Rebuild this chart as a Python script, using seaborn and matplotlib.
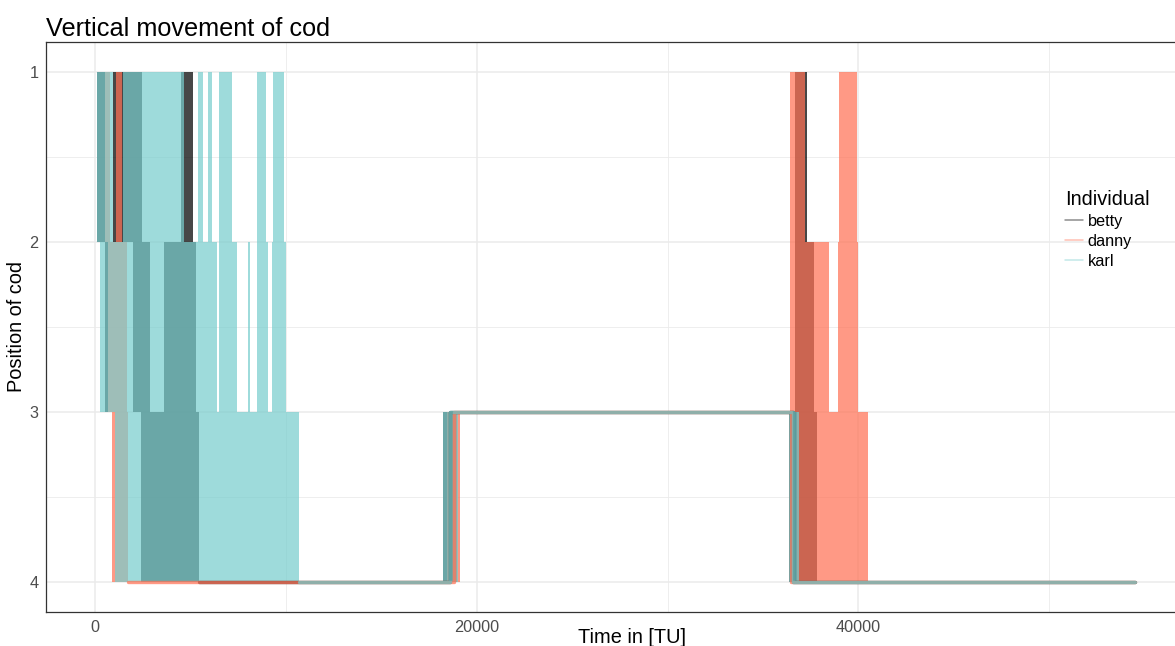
import matplotlib

matplotlib.use("Agg")

import matplotlib.pyplot as plt
import pandas as pd
import seaborn as sns
from matplotlib.lines import Line2D
from matplotlib.ticker import MultipleLocator

INDIVIDUALS = ["betty", "danny", "karl"]
COLORS = {"betty": "#000000", "danny": "#FF7256", "karl": "#79CDCD"}
ALPHA = 0.72

betty_bands = [
    (105, 524, 1, 2), (943, 2463, 1, 2), (4506, 5135, 1, 2), (36680, 37309, 1, 2),
    (524, 681, 2, 3), (1991, 2882, 2, 3), (3616, 5292, 2, 3), (36680, 37676, 2, 3),
    (2410, 5450, 3, 4), (18235, 18950, 3, 4), (36366, 37833, 3, 4),
]
danny_bands = [
    (524, 786, 1, 2), (1100, 1415, 1, 2), (36418, 37204, 1, 2), (38986, 39929, 1, 2),
    (681, 1677, 2, 3), (36418, 38462, 2, 3), (38933, 39981, 2, 3),
    (891, 1729, 3, 4), (18450, 19126, 3, 4), (36800, 40505, 3, 4),
]
karl_bands = [
    (105, 943, 1, 2), (1467, 4664, 1, 2), (5397, 5659, 1, 2), (5921, 6131, 1, 2),
    (6498, 7179, 1, 2), (8489, 8960, 1, 2), (9327, 9904, 1, 2),
    (262, 6393, 2, 3), (6498, 7441, 2, 3), (8017, 8122, 2, 3), (8489, 9065, 2, 3),
    (9275, 10008, 2, 3),
    (1048, 10690, 3, 4), (18235, 19021, 3, 4), (36366, 36890, 3, 4),
]

# calmer stretches of each track
betty_t = [5450, 18600, 18600, 36600, 36600, 54496]
betty_y = [4, 4, 3, 3, 4, 4]
danny_t = [1729, 18800, 18800, 36450, 36450, 54496]
danny_y = [4, 4, 3, 3, 4, 4]
karl_t = [10690, 18600, 18600, 36600, 36600, 54496]
karl_y = [4, 4, 3, 3, 4, 4]

BANDS = {"betty": betty_bands, "danny": danny_bands, "karl": karl_bands}
TRACKS = {"betty": (betty_t, betty_y), "danny": (danny_t, danny_y), "karl": (karl_t, karl_y)}


def main() -> None:
    sns.set_theme(style="whitegrid")
    plt.rcParams["font.family"] = ["Liberation Sans", "DejaVu Sans"]
    plt.rcParams["text.color"] = "black"
    plt.rcParams["axes.labelcolor"] = "black"

    fig = plt.figure(figsize=(11.75, 6.46), dpi=100)
    ax = fig.add_axes([46 / 1175, 34 / 646, 1 - 46 / 1175, (612 - 42) / 646])

    for name in INDIVIDUALS:
        for t0, t1, hi, lo in BANDS[name]:
            ax.fill_between([t0, t1], hi, lo, color=COLORS[name], alpha=ALPHA, lw=0, zorder=1)

    tracks = pd.concat(
        [
            pd.DataFrame({"time": TRACKS[n][0], "position": TRACKS[n][1], "individual": n})
            for n in INDIVIDUALS
        ],
        ignore_index=True,
    )
    sns.lineplot(
        data=tracks, x="time", y="position", hue="individual", palette=COLORS,
        hue_order=INDIVIDUALS, estimator=None, sort=False, lw=2.4, alpha=ALPHA,
        legend=False, ax=ax, zorder=2,
    )

    ax.set_xlim(-2568, 56592)
    ax.set_ylim(4.176, 0.824)
    ax.set_xticks([0, 20000, 40000])
    ax.set_yticks([1, 2, 3, 4])
    ax.xaxis.set_minor_locator(MultipleLocator(10000))
    ax.yaxis.set_minor_locator(MultipleLocator(0.5))
    ax.grid(which="major", color="#EBEBEB", lw=1.1)
    ax.grid(which="minor", color="#EBEBEB", lw=0.6)
    ax.set_axisbelow(True)
    ax.tick_params(which="major", length=3.5, width=0.8, color="#333333",
                   labelcolor="#4D4D4D", labelsize=11.7, pad=2)
    ax.tick_params(which="minor", length=0)
    for side in ["left", "bottom", "top"]:
        ax.spines[side].set_color("#333333")
        ax.spines[side].set_linewidth(0.9)
    ax.spines["right"].set_visible(False)

    ax.set_title("Vertical movement of cod", loc="left", fontsize=18.2, pad=4, color="black")
    ax.set_xlabel("Time in [TU]", fontsize=14.4, labelpad=0)
    ax.set_ylabel("Position of cod", fontsize=14.4, labelpad=0)
    ax.xaxis.set_label_coords((632 - 46) / (1175 - 46), -0.028)
    ax.yaxis.set_label_coords(-(46 - 26) / (1175 - 46), 0.5)

    handles = [Line2D([], [], color=COLORS[n], alpha=0.45, lw=1.1) for n in INDIVIDUALS]
    ax.legend(
        handles, INDIVIDUALS, title="Individual", loc="upper left",
        bbox_to_anchor=(1057 / 1175, 1 - 182 / 646), bbox_transform=fig.transFigure,
        frameon=False, fontsize=11.7, title_fontsize=14.4, handlelength=1.1,
        handletextpad=0.3, labelspacing=0.3, borderpad=0, alignment="left",
    )

    fig.savefig("out.png", dpi=100)
    plt.close(fig)


if __name__ == "__main__":
    main()
